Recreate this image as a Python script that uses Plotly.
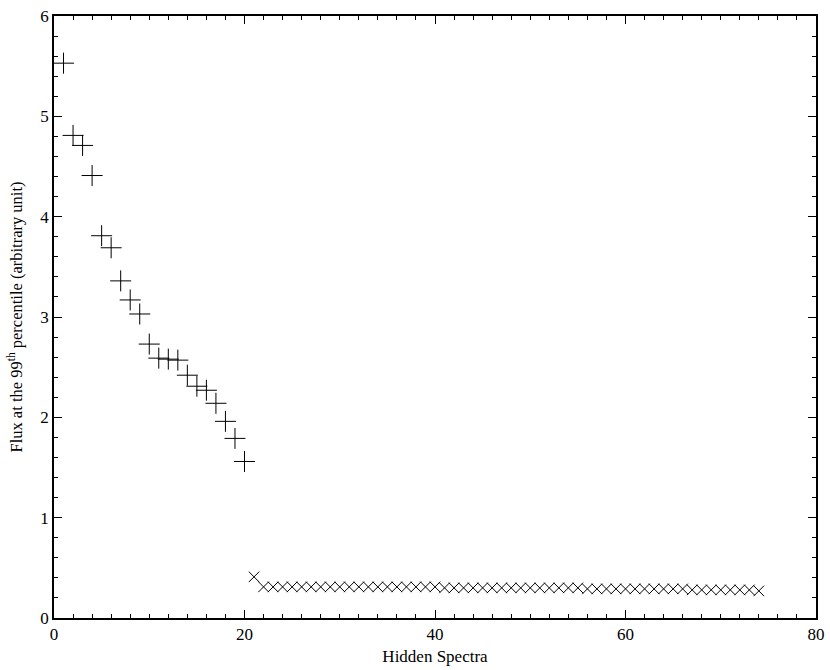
import plotly.graph_objects as go

plus_x = list(range(1, 21))
plus_y = [5.53, 4.81, 4.71, 4.41, 3.81, 3.69, 3.36, 3.17, 3.03, 2.73,
          2.59, 2.58, 2.57, 2.42, 2.31, 2.27, 2.14, 1.96, 1.79, 1.56]

cross_x = list(range(21, 75))
cross_y = [0.41, 0.31, 0.31, 0.31, 0.31, 0.31, 0.31, 0.31, 0.31, 0.31,
           0.31, 0.31, 0.31, 0.31, 0.31, 0.31, 0.31, 0.31, 0.31, 0.31,
           0.30, 0.30, 0.30, 0.30, 0.30, 0.30, 0.30, 0.30, 0.30, 0.30,
           0.30, 0.30, 0.30, 0.30, 0.30, 0.29, 0.29, 0.29, 0.29, 0.29,
           0.29, 0.29, 0.29, 0.29, 0.29, 0.29, 0.28, 0.28, 0.28, 0.28,
           0.28, 0.28, 0.28, 0.27]

x_ticks = [0, 20, 40, 60, 80]
y_ticks = [0, 1, 2, 3, 4, 5, 6]

FONT = "Liberation Serif"

fig = go.Figure()
fig.add_trace(go.Scatter(
    x=plus_x, y=plus_y, mode="markers",
    marker=dict(symbol="cross-thin", size=15, line=dict(width=1, color="black"), color="black"),
    showlegend=False))
fig.add_trace(go.Scatter(
    x=cross_x, y=cross_y, mode="markers",
    marker=dict(symbol="x-thin", size=10.5, line=dict(width=1, color="black"), color="black"),
    showlegend=False))

axis_common = dict(
    showgrid=False, zeroline=False, showline=True, linecolor="black", linewidth=1.5,
    mirror="ticks", ticks="inside", ticklen=8, tickwidth=1.2, tickcolor="black",
    tickfont=dict(family=FONT, size=17, color="black"), automargin=False,
)

fig.update_layout(
    width=830, height=670,
    margin=dict(l=54, r=14, t=16, b=52),
    paper_bgcolor="white", plot_bgcolor="white",
    font=dict(family=FONT, color="black"),
    xaxis=dict(range=[0, 80], tickvals=x_ticks,
               minor=dict(dtick=2, ticklen=4, ticks="inside", tickcolor="black", tickwidth=1),
               title=dict(text="Hidden Spectra", font=dict(family=FONT, size=17), standoff=7),
               **axis_common),
    yaxis=dict(range=[0, 6], tickvals=y_ticks,
               minor=dict(dtick=0.2, ticklen=4, ticks="inside", tickcolor="black", tickwidth=1),
               title=dict(text="Flux at the 99<sup>th</sup> percentile (arbitrary unit)",
                          font=dict(family=FONT, size=16.5), standoff=14),
               **axis_common),
)

# remove the page's default 8px body margin so the figure fills the window exactly
fig.write_html("out.html",
               config={"displayModeBar": False},
               post_script="document.body.style.margin='0px';document.body.style.overflow='hidden';")
